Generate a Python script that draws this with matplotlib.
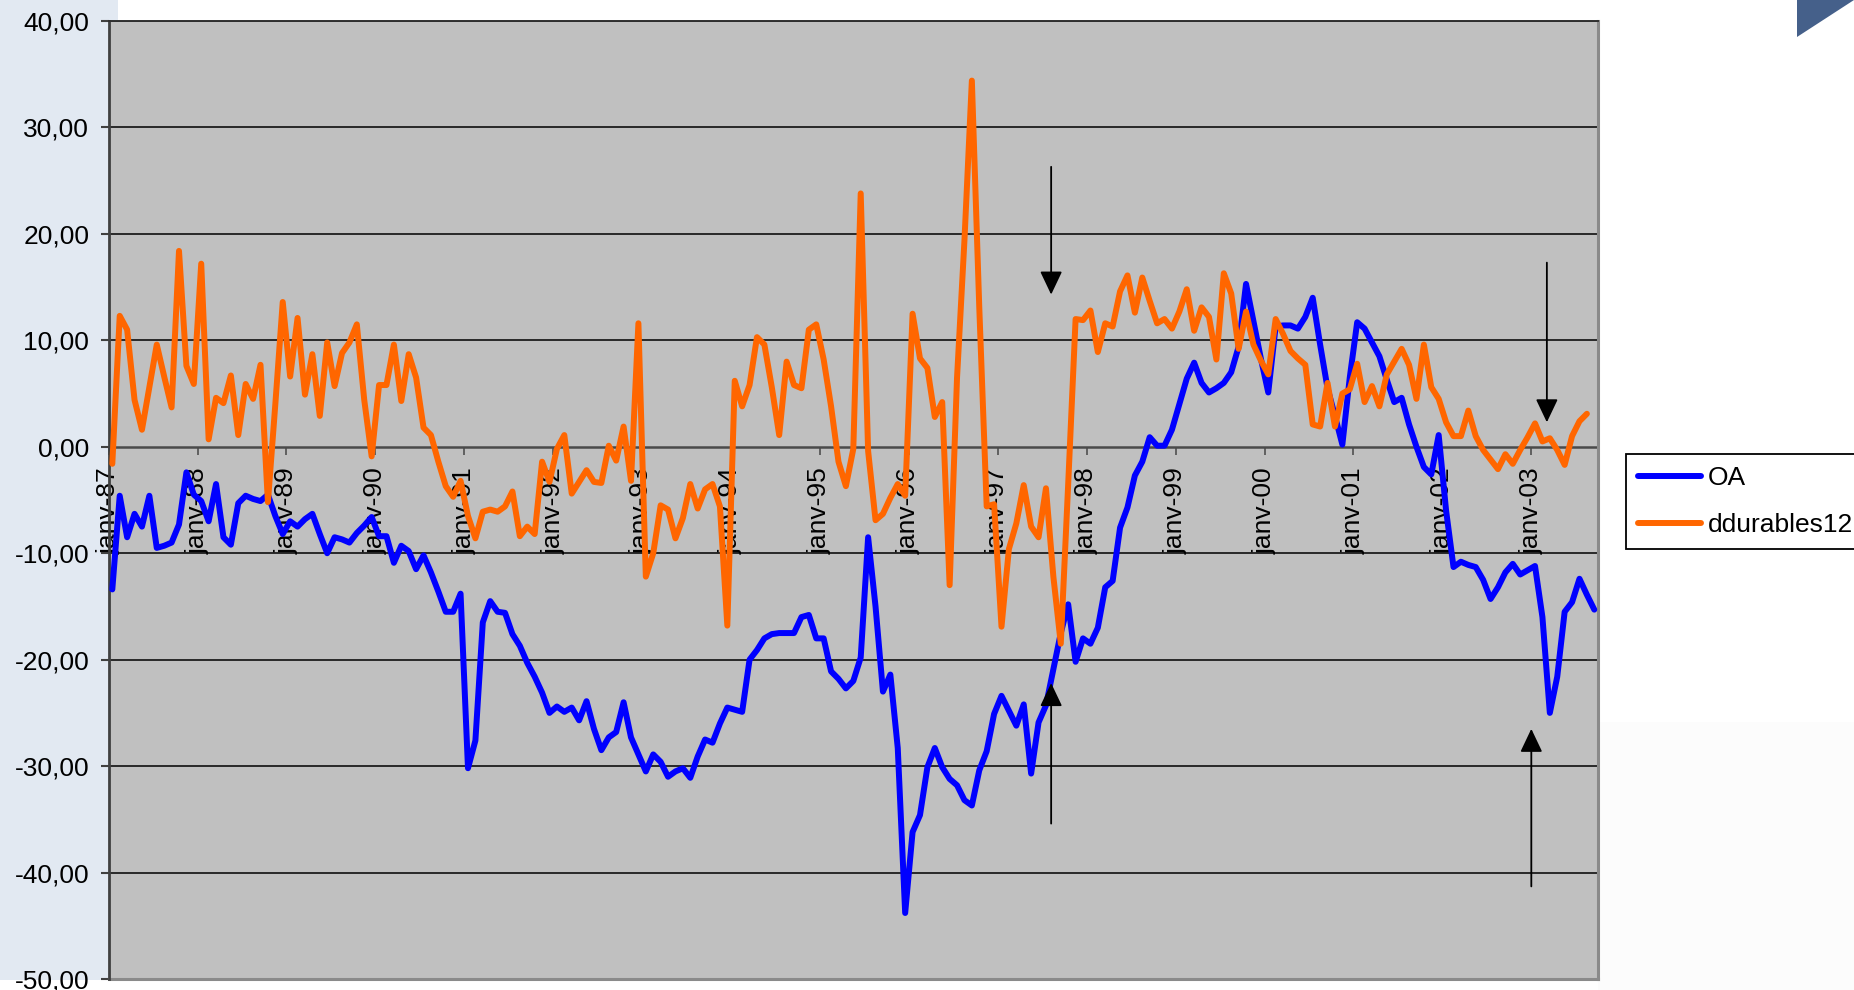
import numpy as np
import matplotlib
matplotlib.use("Agg")
import matplotlib.pyplot as plt
from matplotlib.patches import Rectangle, Polygon
from matplotlib.ticker import FuncFormatter
from matplotlib.lines import Line2D

plt.rcParams['font.family'] = ['Liberation Sans', 'DejaVu Sans']

# Monthly series, January 1987 to September 2003
tick_labels = ['janv-%02d' % (y % 100) for y in range(1987, 2004)]

oa = [
    -13.4, -4.6, -8.5, -6.3, -7.5, -4.6, -9.5, -9.3, -9.0, -7.3, -2.4, -4.5,
    -5.1, -7.0, -3.5, -8.5, -9.2, -5.3, -4.6, -4.9, -5.1, -4.5, -6.5, -8.2,
    -7.0, -7.5, -6.8, -6.3, -8.2, -10.0, -8.5, -8.7, -9.0, -8.1, -7.4, -6.6,
    -8.4, -8.4, -10.9, -9.3, -9.8, -11.5, -10.2, -11.8, -13.6, -15.5, -15.5, -13.8,
    -30.2, -27.6, -16.5, -14.5, -15.5, -15.6, -17.6, -18.7, -20.3, -21.6, -23.1, -25.0,
    -24.4, -24.9, -24.5, -25.7, -23.9, -26.5, -28.5, -27.3, -26.8, -24.0, -27.3, -28.9,
    -30.5, -28.9, -29.6, -31.0, -30.5, -30.2, -31.1, -29.1, -27.5, -27.8, -26.0, -24.5,
    -24.7, -24.9, -20.0, -19.1, -18.0, -17.6, -17.5, -17.5, -17.5, -16.0, -15.8, -18.0,
    -18.0, -21.1, -21.8, -22.7, -22.0, -19.8, -8.5, -15.0, -23.0, -21.4, -28.3, -43.8,
    -36.2, -34.6, -30.1, -28.3, -30.1, -31.2, -31.8, -33.2, -33.7, -30.4, -28.6, -25.1,
    -23.4, -24.8, -26.2, -24.2, -30.7, -25.9, -24.3, -20.9, -17.5, -14.8, -20.2, -18.0,
    -18.5, -17.0, -13.2, -12.6, -7.6, -5.7, -2.7, -1.4, 0.9, 0.1, 0.1, 1.6,
    4.0, 6.4, 7.9, 6.0, 5.1, 5.5, 6.0, 7.0, 9.4, 15.3, 11.8, 8.3,
    5.1, 11.3, 11.4, 11.4, 11.1, 12.2, 14.0, 9.6, 5.5, 2.9, 0.2, 6.5,
    11.7, 11.1, 9.8, 8.5, 6.3, 4.2, 4.6, 2.1, 0.0, -1.9, -2.6, 1.1,
    -6.0, -11.3, -10.8, -11.1, -11.3, -12.5, -14.3, -13.2, -11.8, -11.0, -12.0, -11.6,
    -11.2, -16.0, -25.0, -21.6, -15.5, -14.6, -12.4, -13.9, -15.3,
]

ddurables12 = [
    -1.6, 12.3, 11.0, 4.4, 1.6, 5.6, 9.6, 6.6, 3.7, 18.4, 7.6, 5.9,
    17.2, 0.7, 4.6, 4.1, 6.7, 1.1, 5.9, 4.5, 7.7, -5.2, 4.0, 13.6,
    6.6, 12.1, 4.9, 8.7, 2.9, 9.8, 5.7, 8.8, 9.8, 11.5, 4.4, -0.9,
    5.8, 5.8, 9.6, 4.3, 8.7, 6.5, 1.8, 1.1, -1.4, -3.7, -4.7, -3.2,
    -6.5, -8.6, -6.1, -5.9, -6.1, -5.6, -4.2, -8.4, -7.5, -8.2, -1.4, -3.3,
    -0.2, 1.1, -4.4, -3.3, -2.2, -3.3, -3.4, 0.1, -1.3, 1.9, -3.2, 11.6,
    -12.2, -10.0, -5.5, -5.9, -8.6, -6.7, -3.5, -5.8, -4.0, -3.5, -5.6, -16.8,
    6.2, 3.8, 5.8, 10.3, 9.6, 5.6, 1.1, 8.0, 5.8, 5.5, 11.0, 11.5,
    8.2, 3.8, -1.4, -3.7, -0.2, 23.8, -0.4, -6.9, -6.3, -4.8, -3.5, -4.6,
    12.5, 8.3, 7.4, 2.8, 4.2, -13.0, 6.5, 19.4, 34.4, 13.1, -5.6, -5.4,
    -16.9, -9.6, -7.2, -3.6, -7.5, -8.5, -3.9, -12.2, -18.5, -3.5, 12.0, 11.9,
    12.8, 8.9, 11.6, 11.3, 14.6, 16.1, 12.6, 15.9, 13.7, 11.6, 12.0, 11.1,
    12.7, 14.8, 10.9, 13.1, 12.2, 8.2, 16.3, 14.4, 9.2, 12.7, 9.6, 8.1,
    6.8, 12.0, 10.6, 9.0, 8.3, 7.7, 2.1, 1.9, 6.0, 1.9, 5.0, 5.4,
    7.8, 4.2, 5.7, 3.8, 6.8, 8.0, 9.2, 7.7, 4.5, 9.6, 5.6, 4.5,
    2.3, 1.0, 1.0, 3.4, 1.0, -0.3, -1.2, -2.1, -0.7, -1.6, -0.3, 0.9,
    2.2, 0.5, 0.8, -0.3, -1.7, 1.0, 2.4, 3.1, np.nan,
]

series_names = ['OA', 'ddurables12']
series_colors = ['#0000ff', '#ff6600']

# Vertical arrows marking turning points: (month index, tail value, head value)
arrows = [
    (126.7, 26.3, 14.3),
    (126.7, -35.4, -22.2),
    (193.6, 17.3, 2.3),
    (191.5, -41.3, -26.5),
]

W, H = 1854, 990
fig = plt.figure(figsize=(W / 100, H / 100), dpi=100)
fig.patch.set_facecolor('white')

# Page decoration behind the chart
fig.patches.append(Rectangle((0, 10 / H), 118 / W, 980 / H, transform=fig.transFigure,
                             facecolor='#e2e9f2', edgecolor='none', zorder=-10))
fig.patches.append(Rectangle((1598 / W, 0), 1 - 1598 / W, 1 - 722 / H, transform=fig.transFigure,
                             facecolor='#fcfcfc', edgecolor='none', zorder=-10))
fig.patches.append(Polygon([(1797 / W, 1), (1, 1), (1797 / W, 1 - 37 / H)], closed=True,
                           transform=fig.transFigure, facecolor='#45608a',
                           edgecolor='none', zorder=-10))

ax = fig.add_axes([108.6 / W, 11 / H, (1598 - 108.6) / W, 958 / H])
ax.set_zorder(1)
ax.set_facecolor('#c0c0c0')

months = np.arange(len(oa))
for name, vals, col in zip(series_names, [oa, ddurables12], series_colors):
    ax.plot(months, vals, color=col, lw=4.3, solid_joinstyle='round',
            solid_capstyle='round', label=name, zorder=4)

ax.set_xlim(-0.5, len(oa) - 0.5)
ax.set_ylim(-50, 40)

# Horizontal grid
for v in range(-40, 41, 10):
    if v != 0:
        ax.axhline(v, color='black', lw=1.1, zorder=1)

ax.set_yticks(np.arange(-50, 41, 10))
ax.yaxis.set_major_formatter(FuncFormatter(lambda v, p: f'{v:.2f}'.replace('.', ',')))
ax.tick_params(axis='y', direction='out', length=6, width=1.5, color='#404040',
               pad=8, labelsize=19, labelcolor='black')

ax.set_xticks(np.arange(0, len(oa), 12) - 0.5)
ax.set_xticklabels(tick_labels)
ax.tick_params(axis='x', direction='out', length=5.5, width=1.2, color='#505050',
               pad=9, labelsize=19, labelrotation=90, labelcolor='black')

ax.spines['bottom'].set_position(('data', 0))
ax.spines['bottom'].set_color('#4a4a4a')
ax.spines['bottom'].set_linewidth(1.8)
ax.spines['bottom'].set_zorder(2)
ax.spines['left'].set_color('#404040')
ax.spines['left'].set_linewidth(2.0)
ax.spines['right'].set_color('#8a8a8a')
ax.spines['right'].set_linewidth(2.2)
ax.spines['top'].set_color('#303030')
ax.spines['top'].set_linewidth(1.4)
ax.axhline(-50, color='#8a8a8a', lw=2.2, clip_on=False, zorder=2)

for x, y0, y1 in arrows:
    ax.annotate('', xy=(x, y1), xytext=(x, y0),
                arrowprops=dict(arrowstyle='-|>,head_width=0.38,head_length=0.8',
                                mutation_scale=18, color='black', lw=1.3,
                                shrinkA=0, shrinkB=0), zorder=5)

handles = [Line2D([], [], color=c, lw=4.3, solid_capstyle='round') for c in series_colors]
leg = fig.legend(handles, series_names, loc='upper left',
                 bbox_to_anchor=(1626 / W, 1 - 454 / H), bbox_transform=fig.transFigure,
                 frameon=True, fancybox=False, edgecolor='black', framealpha=1,
                 fontsize=19, handlelength=2.4, handletextpad=0.25, borderpad=0.45,
                 labelspacing=0.88, borderaxespad=0)
leg.get_frame().set_linewidth(1.3)

fig.savefig('out.png', dpi=100, facecolor=fig.get_facecolor())
